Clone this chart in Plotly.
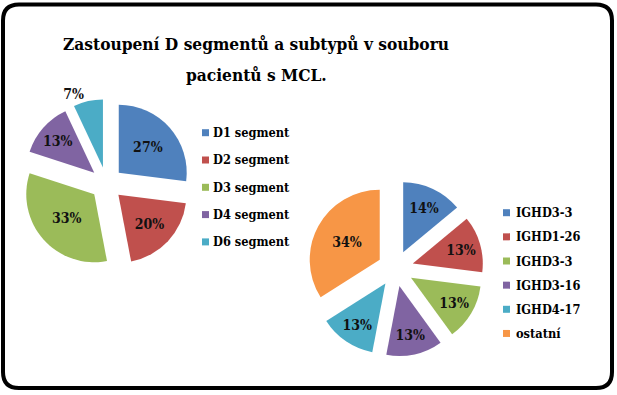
import plotly.graph_objects as go

W, H = 617, 395

# ---- data ----
seg_labels = ["D1 segment", "D2 segment", "D3 segment", "D4 segment", "D6 segment"]
seg_values = [27, 20, 33, 13, 7]
sub_labels = ["IGHD3-3", "IGHD1-26", "IGHD3-3", "IGHD3-16", "IGHD4-17", "ostatní"]
sub_values = [14, 13, 13, 13, 13, 34]
title_lines = ["Zastoupení D segmentů a subtypů v souboru", "pacientů s MCL."]

colors = ["#4F81BD", "#C0504D", "#9BBB59", "#8064A2", "#4BACC6", "#F79646"]
SERIF = "DejaVu Serif Condensed, DejaVu Serif"

def px(x):
    return x / W

def py(y):
    return 1 - y / H

def dom(cx, cy, size):
    h = size / 2
    return dict(x=[px(cx - h), px(cx + h)], y=[py(cy + h), py(cy - h)])

fig = go.Figure()

pie_font = dict(family=SERIF, size=14, color="#111111", weight="bold")

# left pie
fig.add_trace(go.Pie(
    values=seg_values,
    labels=[f"{l}{'\u200b' * i}" for i, l in enumerate(seg_labels)],
    sort=False, direction="clockwise", rotation=0,
    pull=0.24,
    marker=dict(colors=colors[:5], line=dict(width=0)),
    texttemplate="%{value}%",
    textposition=["inside", "inside", "inside", "inside", "outside"],
    insidetextorientation="horizontal",
    textfont=pie_font,
    domain=dom(106.5, 183.5, 168.6),
    showlegend=False, hoverinfo="skip", automargin=False,
))

# right pie (labels made unique so duplicate names are not merged)
fig.add_trace(go.Pie(
    values=sub_values,
    labels=[f"{l}{'\u200b' * i}" for i, l in enumerate(sub_labels)],
    sort=False, direction="clockwise", rotation=0,
    pull=0.257,
    marker=dict(colors=colors[:6], line=dict(width=0)),
    texttemplate="%{value}%",
    textposition="inside",
    insidetextorientation="horizontal",
    textfont=pie_font,
    domain=dom(395.5, 268.5, 176),
    showlegend=False, hoverinfo="skip", automargin=False,
))

shapes = []
annotations = []

# rounded frame
x0, y0, x1, y1, r = 3, 4.5, 612, 388, 16
path = (f"M {px(x0 + r)},{py(y0)} L {px(x1 - r)},{py(y0)} "
        f"Q {px(x1)},{py(y0)} {px(x1)},{py(y0 + r)} "
        f"L {px(x1)},{py(y1 - r)} Q {px(x1)},{py(y1)} {px(x1 - r)},{py(y1)} "
        f"L {px(x0 + r)},{py(y1)} Q {px(x0)},{py(y1)} {px(x0)},{py(y1 - r)} "
        f"L {px(x0)},{py(y0 + r)} Q {px(x0)},{py(y0)} {px(x0 + r)},{py(y0)} Z")
shapes.append(dict(type="path", path=path, xref="paper", yref="paper",
                   line=dict(color="black", width=4)))

# manual legends
def legend(labels, cols, sx, sy0, step, tx):
    for i, (lab, c) in enumerate(zip(labels, cols)):
        cy = sy0 + i * step
        shapes.append(dict(type="rect", xref="paper", yref="paper",
                           x0=px(sx), x1=px(sx + 7), y0=py(cy + 3.5), y1=py(cy - 3.5),
                           fillcolor=c, line=dict(width=0)))
        annotations.append(dict(text=lab, x=px(tx), y=py(cy), xref="paper", yref="paper",
                                xanchor="left", yanchor="middle", showarrow=False,
                                font=dict(family=SERIF, size=12.7, color="black", weight="bold")))

legend(seg_labels, colors[:5], 202, 132.7, 27.3, 211)
legend(sub_labels, colors[:6], 503, 212.7, 24.15, 514)

for i, line in enumerate(title_lines):
    annotations.append(dict(text=line, x=px(256), y=py(44 + 30.5 * i), xref="paper", yref="paper",
                            xanchor="center", yanchor="middle", showarrow=False,
                            font=dict(family=SERIF, size=17.2, color="black", weight="bold")))

fig.update_layout(
    width=W, height=H, margin=dict(l=0, r=0, t=0, b=0, pad=0, autoexpand=False),
    paper_bgcolor="white", plot_bgcolor="white",
    shapes=shapes, annotations=annotations, showlegend=False,
)

fig.write_html("out.html", config={"displayModeBar": False},
               post_script="document.body.style.margin='0';")
